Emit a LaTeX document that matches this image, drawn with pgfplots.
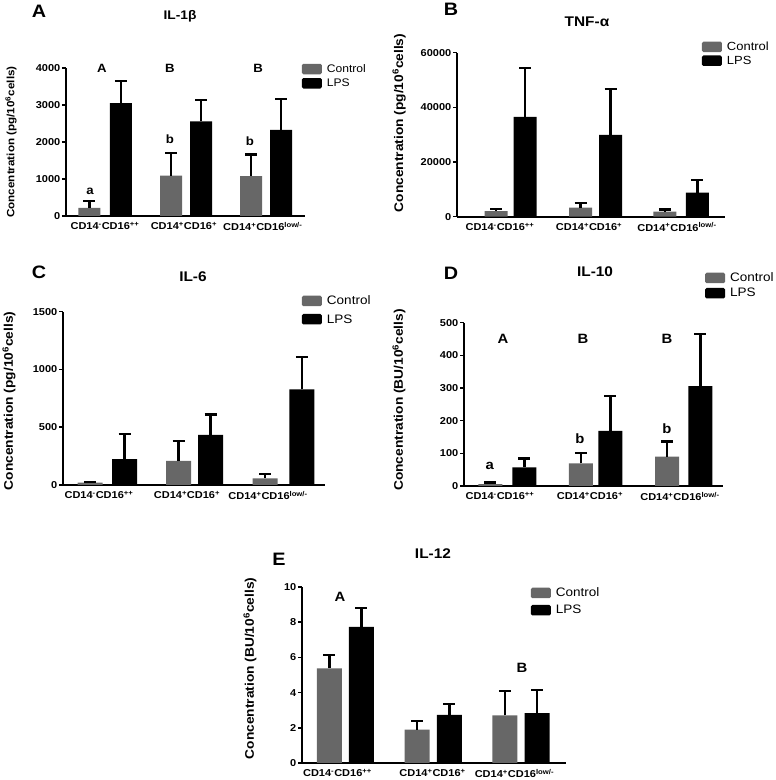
\documentclass[border=0pt]{standalone}
\usepackage{pgfplots}
\pgfplotsset{compat=1.18}
\usepackage{fontspec}
\setmainfont{Liberation Sans}[FakeStretch=1.1]
\definecolor{ctrl}{HTML}{676767}
\tikzset{lab/.style={font=\bfseries\fontsize{13.5}{15}\selectfont},
  labA/.style={font=\bfseries\fontsize{12}{14}\selectfont},
  plab/.style={font=\bfseries\fontsize{18}{19}\selectfont}}
\pgfplotsset{
 panel/.style={
  scale only axis, clip=false,
  axis x line*=bottom, axis y line*=left,
  axis line style={line width=1.8pt, black},
  ymin=0,
  tick align=outside,
  major tick length=4pt,
  y tick style={line width=1.5pt, black},
  x tick style={draw=none},
  yticklabel style={font=\bfseries\fontsize{10}{12}\selectfont, inner sep=1.5pt},
  xticklabel style={font=\bfseries\fontsize{10}{11}\selectfont, inner sep=2pt},
  /pgf/number format/assume math mode=true,
  /pgf/number format/1000 sep={},
  scaled y ticks=false,
  ylabel style={font=\bfseries\fontsize{12.5}{14}\selectfont},
  title style={font=\bfseries\fontsize{14}{16}\selectfont, anchor=center},
  legend style={draw=none, fill=none, anchor=north west, legend cell align=left,
    font=\fontsize{12.3}{14}\selectfont, inner sep=0pt, outer sep=0pt, row sep=1pt,
    /tikz/every odd column/.append style={column sep=3pt}},
  xticklabels={CD14\textsuperscript{-}CD16\textsuperscript{++}, CD14\textsuperscript{+}CD16\textsuperscript{+}, CD14\textsuperscript{+}CD16\textsuperscript{low/-}},
 },
 errs/.style={error bars/.cd, y dir=plus, y explicit,
   error bar style={line width=2.2pt, black},
   error mark options={rotate=90, mark size=6pt, line width=2.2pt, black}},
 barC/.style={ybar, bar shift=0pt, fill=ctrl, draw=none,
   legend image code/.code={\fill[ctrl, rounded corners=1.5pt] (0pt,-5pt) rectangle (20pt,5.5pt);}, errs},
 barL/.style={ybar, bar shift=0pt, fill=black, draw=none,
   legend image code/.code={\fill[black, rounded corners=1.5pt] (0pt,-5pt) rectangle (20pt,5.5pt);}, errs},
}
\begin{document}
\begin{tikzpicture}[x=1pt,y=1pt]
\useasboundingbox (0,0) rectangle (776,780);
\node[plab] at (39,769) {A};
\node[plab] at (451,771) {B};
\node[plab] at (39,508) {C};
\node[plab] at (451,507) {D};
\node[plab] at (279,221) {E};

% ---------------- A: IL-1beta
\begin{axis}[panel, at={(66pt,564pt)}, anchor=south west, width=239pt, height=148pt,
  xmin=-0.484, xmax=2.484, ymax=4000, ytick={0,1000,2000,3000,4000},
  xtick={0,0.98,1.96}, bar width=22pt,
  ylabel={Concentration (pg/10\textsuperscript{6}cells)},
  ylabel style={font=\bfseries\fontsize{10.6}{13}\selectfont, at={(axis description cs:-0.23,0.5)}, anchor=center},
  title={IL-1β}, title style={font=\bfseries\fontsize{12.5}{14}\selectfont, at={(axis description cs:0.477,1.31)}},
  legend style={at={(axis description cs:0.987,1.037)}, font=\fontsize{11}{13}\selectfont, row sep=1pt}]
\addplot[barC] coordinates {(-0.193,220) +- (0,180) (0.820,1090) +- (0,610) (1.814,1080) +- (0,580)};
\addlegendentry{Control}
\addplot[barL] coordinates {(0.199,3050) +- (0,590) (1.193,2560) +- (0,580) (2.186,2330) +- (0,840)};
\addlegendentry{LPS}
\node[labA] at (axis cs:-0.037,4000) {A};
\node[labA] at (axis cs:0.807,4000) {B};
\node[labA] at (axis cs:1.901,4000) {B};
\node[labA] at (axis cs:-0.186,674) {a};
\node[labA] at (axis cs:0.807,2067) {b};
\node[labA] at (axis cs:1.801,2022) {b};
\end{axis}

% ---------------- B: TNF-alpha
\begin{axis}[panel, at={(457pt,563.3pt)}, anchor=south west, width=268pt, height=164pt,
  xmin=-0.647, xmax=2.506, ymax=60000, ytick={0,20000,40000,60000},
  xtick={-0.141,0.906,1.941}, bar width=23pt,
  ylabel={Concentration (pg/10\textsuperscript{6}cells)},
  ylabel style={at={(axis description cs:-0.216,0.571)}, anchor=center},
  title={TNF-α}, title style={at={(axis description cs:0.485,1.15)}},
  legend style={at={(axis description cs:0.914,1.077)}, font=\fontsize{11.8}{14}\selectfont, row sep=0pt}]
\addplot[barC] coordinates {(-0.188,2000) +- (0,700) (0.806,3300) +- (0,1700) (1.8,1900) +- (0,700)};
\addlegendentry{Control}
\addplot[barL] coordinates {(0.153,36500) +- (0,17900) (1.159,29900) +- (0,16900) (2.182,8800) +- (0,4500)};
\addlegendentry{LPS}
\end{axis}

% ---------------- C: IL-6
\begin{axis}[panel, at={(63pt,295pt)}, anchor=south west, width=262pt, height=173.3pt,
  xmin=-0.52, xmax=2.474, ymax=1500, ytick={0,500,1000,1500},
  xtick={-0.109,0.897,1.823}, bar width=25pt,
  ylabel={Concentration (pg/10\textsuperscript{6}cells)},
  ylabel style={at={(axis description cs:-0.206,0.485)}, anchor=center},
  title={IL-6}, title style={at={(axis description cs:0.496,1.166)}},
  legend style={at={(axis description cs:0.912,1.102)}, row sep=4pt}]
\addplot[barC] coordinates {(-0.211,20) +- (0,9) (0.8,208) +- (0,173) (1.789,58) +- (0,37)};
\addlegendentry{Control}
\addplot[barL] coordinates {(0.183,225) +- (0,213) (1.166,433) +- (0,178) (2.211,828) +- (0,282)};
\addlegendentry{LPS}
\end{axis}

% ---------------- D: IL-10
\begin{axis}[panel, at={(464pt,294pt)}, anchor=south west, width=259pt, height=163.3pt,
  xmin=-0.494, xmax=2.449, ymax=500, ytick={0,100,200,300,400,500},
  xtick={-0.085,0.9375,1.96}, bar width=24pt,
  ylabel={Concentration (BU/10\textsuperscript{6}cells)},
  ylabel style={at={(axis description cs:-0.251,0.527)}, anchor=center},
  title={IL-10}, title style={at={(axis description cs:0.506,1.274)}},
  legend style={at={(axis description cs:0.931,1.317)}, row sep=1pt}]
\addplot[barC] coordinates {(-0.193,6) +- (0,5) (0.835,69) +- (0,31) (1.813,90) +- (0,46)};
\addlegendentry{Control}
\addplot[barL] coordinates {(0.193,57) +- (0,27) (1.17,169) +- (0,107) (2.193,306) +- (0,159)};
\addlegendentry{LPS}
\node[lab] at (axis cs:-0.051,449) {A};
\node[lab] at (axis cs:0.858,449) {B};
\node[lab] at (axis cs:1.813,449) {B};
\node[lab] at (axis cs:-0.2,61) {a};
\node[lab] at (axis cs:0.824,146) {b};
\node[lab] at (axis cs:1.813,174) {b};
\end{axis}

% ---------------- E: IL-12
\begin{axis}[panel, at={(302pt,17pt)}, anchor=south west, width=264pt, height=176pt,
  xmin=-0.494, xmax=2.506, ymax=10, ytick={0,2,4,6,8,10},
  xtick={-0.091,0.989,1.92}, bar width=25pt,
  ylabel={Concentration (BU/10\textsuperscript{6}cells)},
  ylabel style={at={(axis description cs:-0.197,0.537)}, anchor=center},
  title={IL-12}, title style={at={(axis description cs:0.496,1.153)}},
  legend style={at={(axis description cs:0.867,1.006)}, row sep=3pt}]
\addplot[barC] coordinates {(-0.182,5.38) +- (0,0.74) (0.813,1.89) +- (0,0.48) (1.81,2.71) +- (0,1.4)};
\addlegendentry{Control}
\addplot[barL] coordinates {(0.182,7.73) +- (0,1.06) (1.182,2.73) +- (0,0.64) (2.179,2.84) +- (0,1.33)};
\addlegendentry{LPS}
\node[lab] at (axis cs:-0.0625,9.43) {A};
\node[lab] at (axis cs:2.006,5.4) {B};
\end{axis}
\end{tikzpicture}
\end{document}
